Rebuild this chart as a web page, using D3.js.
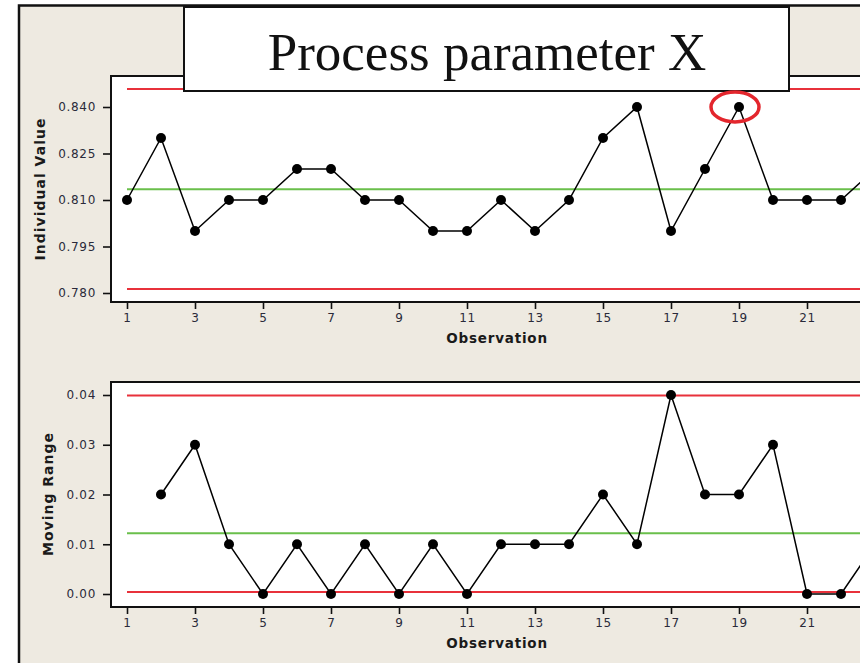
<!DOCTYPE html>
<html>
<head>
<meta charset="utf-8">
<script src="https://cdn.jsdelivr.net/npm/d3@7"></script>
<style>
    body { margin: 0; background: #ffffff; }
    svg text { font-family: "DejaVu Sans", Verdana, sans-serif; }
</style>
</head>
<body>
<div id="chart"></div>
<script>
// observation numbers (23 is cut off at the right edge of the picture)
var observations = [1, 2, 3, 4, 5, 6, 7, 8, 9, 10, 11, 12, 13, 14, 15, 16, 17, 18, 19, 20, 21, 22, 23];
var individual_values = [0.81, 0.83, 0.80, 0.81, 0.81, 0.82, 0.82, 0.81, 0.81, 0.80, 0.80, 0.81,
    0.80, 0.81, 0.83, 0.84, 0.80, 0.82, 0.84, 0.81, 0.81, 0.81, 0.82];
var moving_ranges = [null, 0.02, 0.03, 0.01, 0.00, 0.01, 0.00, 0.01, 0.00, 0.01, 0.00, 0.01,
    0.01, 0.01, 0.02, 0.01, 0.04, 0.02, 0.02, 0.03, 0.00, 0.00, 0.01];

// control limits: [lcl, cl, ucl]
var individual_limits = [0.7813, 0.8135, 0.8458];
var range_limits = [0.0004, 0.0122, 0.0399];

var x_ticks = [1, 3, 5, 7, 9, 11, 13, 15, 17, 19, 21];
var individual_ticks = [0.780, 0.795, 0.810, 0.825, 0.840];
var range_ticks = [0.00, 0.01, 0.02, 0.03, 0.04];

var title_text = "Process parameter X";
var x_label = "Observation";
var highlight_obs = 19;

var width = 860, height = 663;
var red = "#e8313b", green = "#6abf4b";

var svg = d3.select("#chart").append("svg")
    .attr("width", width)
    .attr("height", height);

// beige frame
svg.append("rect")
    .attr("x", 19).attr("y", 5.5)
    .attr("width", width).attr("height", height)
    .style("fill", "#eeeae1")
    .style("stroke", "#111")
    .style("stroke-width", 2.5);

var x = d3.scaleLinear().domain([1, 23]).range([127, 875]);

function draw_panel(opts) {
    var y = d3.scaleLinear().domain(opts.domain).range(opts.range);
    var g = svg.append("g");

    g.append("rect")
        .attr("x", 111).attr("y", opts.top)
        .attr("width", 780).attr("height", opts.bottom - opts.top)
        .style("fill", "#fff")
        .style("stroke", "#111")
        .style("stroke-width", 2);

    // limit lines
    opts.limits.forEach(function (v, i) {
        g.append("line")
            .attr("x1", x(1)).attr("x2", x(23))
            .attr("y1", y(v)).attr("y2", y(v))
            .style("stroke", i == 1 ? green : red)
            .style("stroke-width", 2);
    });

    var data = observations.map(function (o, i) {
        return {x: o, v: opts.values[i]};
    }).filter(function (d) { return d.v !== null; });

    var my_line = d3.line()
        .x(d => x(d.x))
        .y(d => y(d.v));
    g.append("path")
        .datum(data)
        .attr("d", my_line)
        .style("fill", "none")
        .style("stroke", "#000")
        .style("stroke-width", 1.5);
    g.selectAll("circle.pt")
        .data(data).join("circle")
        .attr("class", "pt")
        .attr("cx", d => x(d.x))
        .attr("cy", d => y(d.v))
        .attr("r", 5)
        .style("fill", "#000");

    var v_axis = d3.axisLeft(y).tickValues(opts.ticks)
        .tickFormat(d3.format(opts.format)).tickSize(7).tickPadding(7);
    var va = g.append("g").attr("transform", "translate(110,0)").call(v_axis);

    var h_axis = d3.axisBottom(x).tickValues(x_ticks)
        .tickFormat(d3.format("d")).tickSize(6).tickPadding(4);
    var ha = g.append("g").attr("transform", "translate(0," + (opts.bottom + 1) + ")").call(h_axis);

    [va, ha].forEach(function (a) {
        a.select(".domain").remove();
        a.selectAll(".tick line").style("stroke", "#111").style("stroke-width", 1.6);
        a.selectAll(".tick text")
            .style("font-size", "12px")
            .style("letter-spacing", "0.7px")
            .style("fill", "#2a2a3a");
    });

    g.append("text")
        .attr("x", 497).attr("y", opts.bottom + 41)
        .attr("text-anchor", "middle")
        .style("font-size", "13.5px")
        .style("font-weight", "bold")
        .style("letter-spacing", "0.8px")
        .style("fill", "#1a1a1a")
        .text(x_label);

    g.append("text")
        .attr("transform", "translate(" + opts.label_x + "," + opts.label_y + ") rotate(-90)")
        .attr("text-anchor", "middle")
        .attr("dy", "0.35em")
        .style("font-size", "14px")
        .style("font-weight", "bold")
        .style("letter-spacing", "1px")
        .style("fill", "#1a1a1a")
        .text(opts.label);

    return y;
}

var y_top = draw_panel({
    top: 76, bottom: 302,
    domain: [0.780, 0.840], range: [293, 107],
    values: individual_values, limits: individual_limits,
    ticks: individual_ticks, format: ".3f",
    label: "Individual Value", label_x: 40, label_y: 189
});

draw_panel({
    top: 382, bottom: 607,
    domain: [0, 0.04], range: [594, 395],
    values: moving_ranges, limits: range_limits,
    ticks: range_ticks, format: ".2f",
    label: "Moving Range", label_x: 48, label_y: 494
});

// title box, sits on top of the upper panel
svg.append("rect")
    .attr("x", 184).attr("y", 7)
    .attr("width", 605).attr("height", 84)
    .style("fill", "#fff")
    .style("stroke", "#111")
    .style("stroke-width", 2);
svg.append("text")
    .attr("x", 487).attr("y", 70)
    .attr("text-anchor", "middle")
    .style("font-family", "'Liberation Serif', 'Times New Roman', serif")
    .style("font-size", "53px")
    .style("fill", "#111")
    .text(title_text);

// red ring round the highlighted point
svg.append("ellipse")
    .attr("cx", x(highlight_obs) - 4)
    .attr("cy", y_top(individual_values[highlight_obs - 1]))
    .attr("rx", 24).attr("ry", 15)
    .style("fill", "none")
    .style("stroke", "#e3262d")
    .style("stroke-width", 3.5);
</script>
</body>
</html>
